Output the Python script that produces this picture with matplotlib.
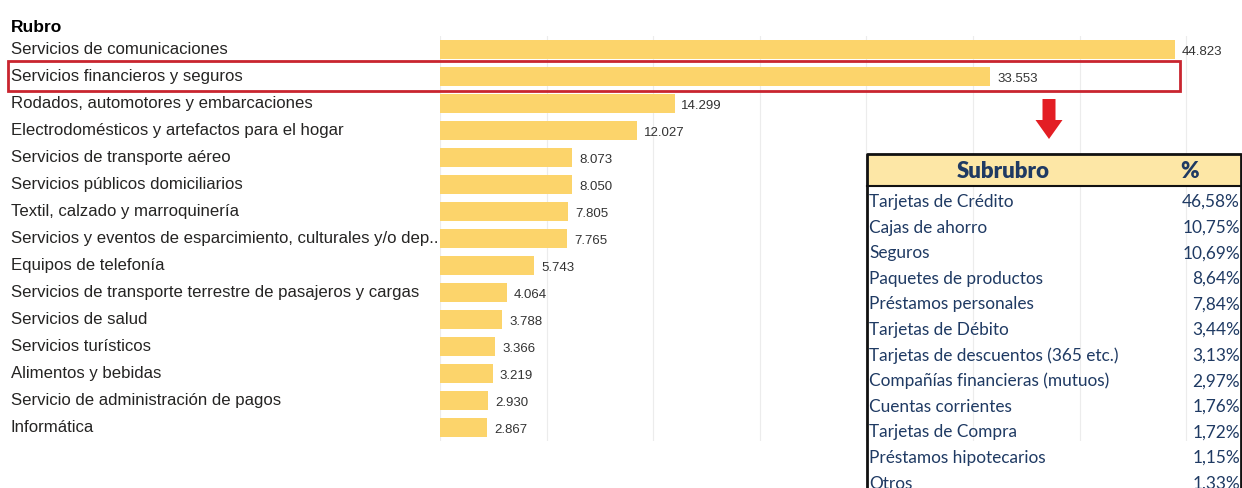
import matplotlib.pyplot as plt
import matplotlib.transforms as mtransforms
from matplotlib.patches import Rectangle, FancyArrow
from matplotlib.ticker import MultipleLocator

# rubros y cantidad de reclamos
rubros = ['Servicios de comunicaciones',
          'Servicios financieros y seguros',
          'Rodados, automotores y embarcaciones',
          'Electrodomésticos y artefactos para el hogar',
          'Servicios de transporte aéreo',
          'Servicios públicos domiciliarios',
          'Textil, calzado y marroquinería',
          'Servicios y eventos de esparcimiento, culturales y/o dep..',
          'Equipos de telefonía',
          'Servicios de transporte terrestre de pasajeros y cargas',
          'Servicios de salud',
          'Servicios turísticos',
          'Alimentos y bebidas',
          'Servicio de administración de pagos',
          'Informática']
reclamos = [44823, 33553, 14299, 12027, 8073, 8050, 7805, 7765,
            5743, 4064, 3788, 3366, 3219, 2930, 2867]

# apertura de servicios financieros
subrubros = ['Tarjetas de Crédito', 'Cajas de ahorro', 'Seguros',
             'Paquetes de productos', 'Préstamos personales',
             'Tarjetas de Débito', 'Tarjetas de descuentos (365 etc.)',
             'Compañías financieras (mutuos)', 'Cuentas corrientes',
             'Tarjetas de Compra', 'Préstamos hipotecarios', 'Otros']
porcentajes = [46.58, 10.75, 10.69, 8.64, 7.84, 3.44, 3.13, 2.97,
               1.76, 1.72, 1.15, 1.33]

W, H = 1242, 489
fig = plt.figure(figsize=(W / 100, H / 100), dpi=100)
fig.patch.set_facecolor('white')

BAR = '#fcd46b'
TXT = '#252423'

ax = fig.add_axes([440 / W, 1 - 442 / H, (W - 440) / W, 405 / H])
y = list(range(len(rubros)))
ax.barh(y, reclamos, height=0.7, color=BAR, zorder=2)
ax.set_xlim(0, (W - 440) / 0.0164)
ax.set_ylim(len(rubros) - 0.5, -0.5)
ax.xaxis.set_major_locator(MultipleLocator(6500))
ax.grid(axis='x', color='#ececec', lw=0.8, zorder=0)
ax.tick_params(left=False, bottom=False, labelleft=False, labelbottom=False)
for s in ax.spines.values():
    s.set_visible(False)

for yi, v in zip(y, reclamos):
    ax.text(v + 420, yi + 0.05, f'{v:,}'.replace(',', '.'), va='center', ha='left',
            fontsize=9.5, color='#333333', family='Liberation Sans', zorder=3)

trans = mtransforms.blended_transform_factory(fig.transFigure, ax.transData)
for yi, r in zip(y, rubros):
    ax.text(11 / W, yi - 0.02, r, transform=trans, va='center', ha='left',
            fontsize=12.1, color=TXT, family='Liberation Sans')
fig.text(11 / W, 1 - 27 / H, 'Rubro', va='center', ha='left', fontsize=12.5,
         fontweight='bold', color='black', family='Liberation Sans')

# capa superior en pixeles: recuadro, flecha y tabla
ov = fig.add_axes([0, 0, 1, 1], facecolor='none')
ov.set_xlim(0, W)
ov.set_ylim(H, 0)
ov.axis('off')

ov.add_patch(Rectangle((8, 62), 1172, 30, fill=False, ec='#c9252f', lw=2))
ov.add_patch(FancyArrow(1049, 100, 0, 40, width=13, head_width=27, head_length=19,
                        length_includes_head=True, color='#e31e24', lw=0))

tx0, tx1, ty0 = 867, 1241, 155
hdr_h = 32
row_h = 25.6
ov.add_patch(Rectangle((tx0, ty0), tx1 - tx0, hdr_h, fc='#fde7a6', ec='none'))
ov.plot([tx0, tx0, tx1, tx1], [H + 5, ty0, ty0, H + 5], color='#111111', lw=2)
ov.plot([tx0, tx1], [ty0 + hdr_h, ty0 + hdr_h], color='#111111', lw=1.5)

BLUE = '#1f3a63'
ov.text(1003, ty0 + hdr_h / 2 + 1, 'Subrubro', ha='center', va='center',
        fontsize=16, fontweight='heavy', color=BLUE, family='Lato')
ov.text(1190, ty0 + hdr_h / 2 + 1, '%', ha='center', va='center',
        fontsize=16, fontweight='heavy', color=BLUE, family='Lato')
for i, (s, p) in enumerate(zip(subrubros, porcentajes)):
    yy = ty0 + hdr_h + 15 + i * row_h
    ov.text(869, yy, s, ha='left', va='center', fontsize=12.4, color=BLUE, family='Lato')
    ov.text(1240, yy, f'{p:.2f}%'.replace('.', ','), ha='right', va='center',
            fontsize=12.4, color=BLUE, family='Lato')

fig.savefig('out.png', dpi=100, facecolor='white')
